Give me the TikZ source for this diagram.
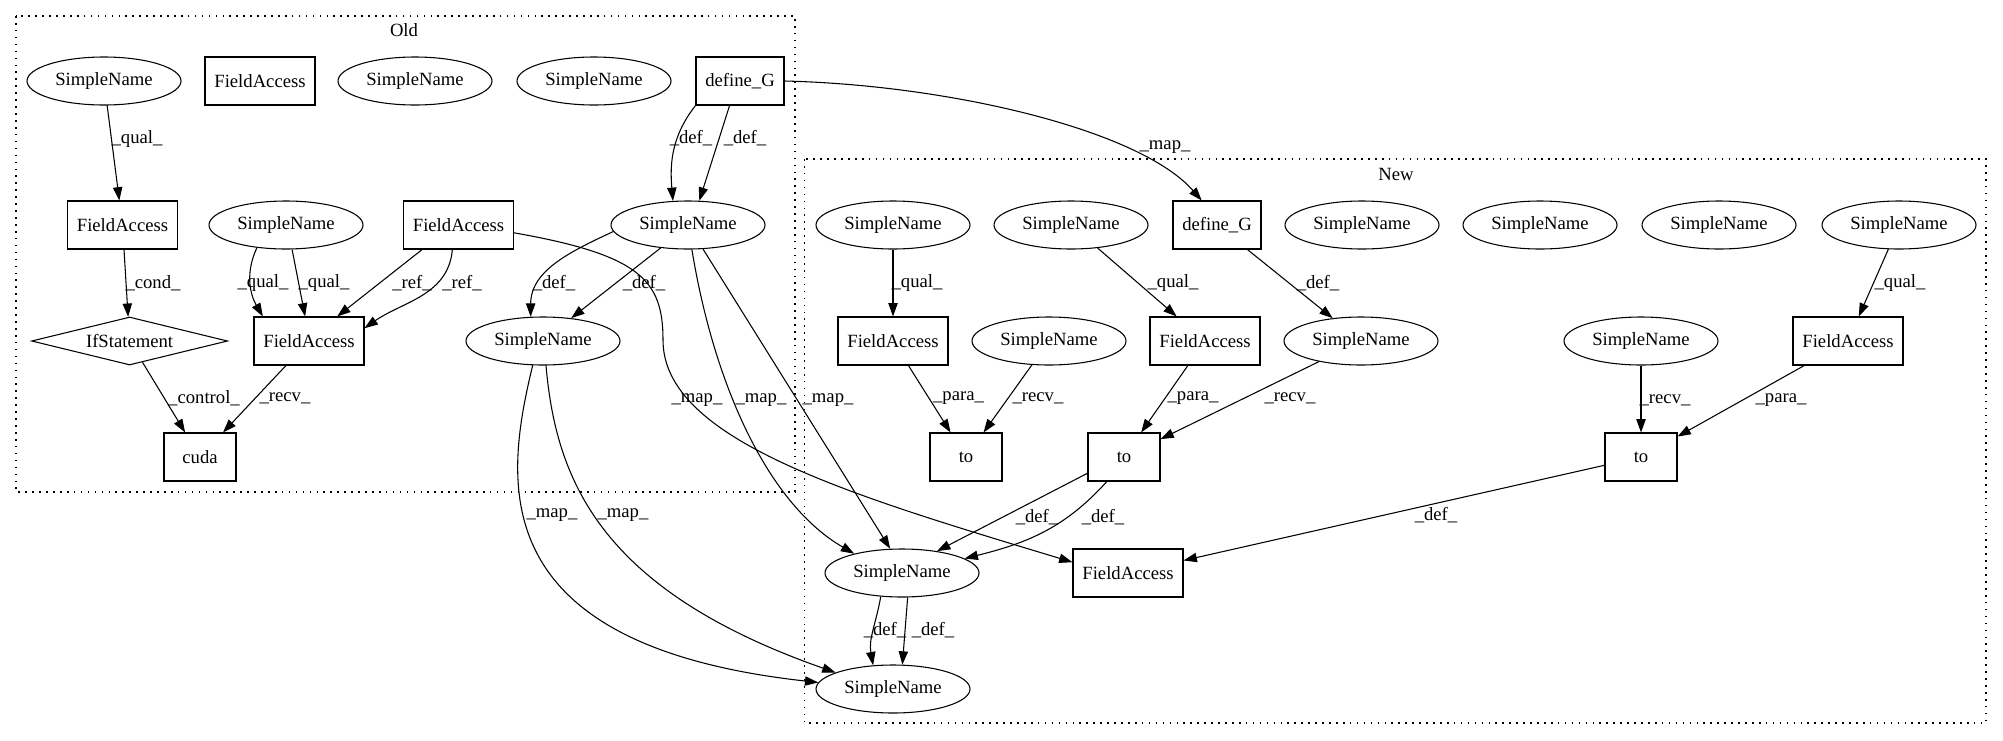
\documentclass[tikz,border=0pt]{standalone}
\usepackage{fontspec}
\setmainfont{Liberation Serif}
\usetikzlibrary{shapes.geometric,arrows.meta}

\begin{document}
\begin{tikzpicture}[x=0.75pt,y=-0.75pt,
  every node/.style={font=\fontsize{14}{16}\selectfont},
  sname/.style={draw,ellipse,line width=0.8pt,inner sep=0pt,minimum width=115.5pt,minimum height=36pt},
  fld/.style={draw,rectangle,line width=0.8pt,inner sep=0pt,minimum width=82.5pt,minimum height=36pt},
  defbox/.style={fld,minimum width=66pt},
  call/.style={fld,minimum width=54pt},
  decide/.style={draw,diamond,aspect=4,line width=0.8pt,inner sep=0pt,minimum width=147pt,minimum height=36pt},
  link/.style={line width=0.8pt,-{Triangle[length=10pt,width=7pt]}},
  lbl/.style={inner sep=0pt},
  cluster/.style={line width=0.8pt,dash pattern=on 1.2pt off 4pt}]
\useasboundingbox (0,0) rectangle (2003,740);

\draw[cluster] (16,16) rectangle (795,492);
\draw[cluster] (804.5,159) rectangle (1986,723);
\node (t_old) at (404,30) {Old};
\node (t_new) at (1396,174) {New};

\node[sname] (o_sn1) at (104,81) {SimpleName};
\node[fld] (o_fa1) at (260,81) {FieldAccess};
\node[sname] (o_sn2) at (415,81) {SimpleName};
\node[sname] (o_sn3) at (594,81) {SimpleName};
\node[defbox] (o_defG) at (740,81) {define\_G};

\node[fld] (o_fa2) at (122.5,225) {FieldAccess};
\node[sname] (o_sn4) at (286,225) {SimpleName};
\node[fld] (o_fa3) at (458.5,225) {FieldAccess};
\node[sname] (o_sn5) at (688,225) {SimpleName};

\node[decide] (o_if) at (129.6,341) {IfStatement};
\node[fld] (o_fa4) at (309,341) {FieldAccess};
\node[sname] (o_sn6) at (543,341) {SimpleName};

\node[call] (o_cuda) at (200,457) {cuda};

\node[sname] (n_sn1) at (893,225) {SimpleName};
\node[sname] (n_sn2) at (1071,225) {SimpleName};
\node[defbox] (n_defG) at (1217,225) {define\_G};
\node[sname] (n_sn3) at (1362,225) {SimpleName};
\node[sname] (n_sn4) at (1540,225) {SimpleName};
\node[sname] (n_sn5) at (1719,225) {SimpleName};
\node[sname] (n_sn6) at (1899,225) {SimpleName};

\node[fld] (n_fa1) at (893,341) {FieldAccess};
\node[sname] (n_sn7) at (1049,341) {SimpleName};
\node[fld] (n_fa2) at (1205,341) {FieldAccess};
\node[sname] (n_sn8) at (1361,341) {SimpleName};
\node[sname] (n_sn9) at (1641,341) {SimpleName};
\node[fld] (n_fa3) at (1848,341) {FieldAccess};

\node[call] (n_to1) at (966,457) {to};
\node[call] (n_to2) at (1124,457) {to};
\node[call] (n_to3) at (1641,457) {to};

\node[sname] (n_sn10) at (902,573) {SimpleName};
\node[fld] (n_fa4) at (1128,573) {FieldAccess};
\node[sname] (n_sn11) at (893,689) {SimpleName};

\draw[link] (o_sn1) -- (o_fa2) node[lbl,at={(137,139)}] {\_qual\_};
\draw[link] (o_defG.south west) to[out=-128,in=95] (o_sn5.122) node[lbl,at={(691,138)}] {\_def\_};
\draw[link] (o_defG.-113) -- (o_sn5.65) node[lbl,at={(745,138)}] {\_def\_};
\draw[link] (o_fa2) -- (o_if) node[lbl,at={(153,283)}] {\_cond\_};
\draw[link] (o_sn4.-142) to[out=-115,in=120] (o_fa4.152) node[lbl,at={(263,283)}] {\_qual\_};
\draw[link] (o_sn4.-76) -- (o_fa4.99) node[lbl,at={(324,283)}] {\_qual\_};
\draw[link] (o_fa3.-146) -- (o_fa4.41) node[lbl,at={(412,283)}] {\_ref\_};
\draw[link] (o_fa3.-104) to[out=-95,in=35] (o_fa4.13) node[lbl,at={(462,283)}] {\_ref\_};
\draw[link] (o_sn5.185) to[out=-155,in=90] (o_sn6.117) node[lbl,at={(554,283)}] {\_def\_};
\draw[link] (o_sn5.-140) -- (o_sn6.39) node[lbl,at={(644,283)}] {\_def\_};
\draw[link] (o_if) -- (o_cuda) node[lbl,at={(204,398)}] {\_control\_};
\draw[link] (o_fa4) -- (o_cuda) node[lbl,at={(285,398)}] {\_recv\_};

\draw[link] (o_fa3.-8) .. controls (640,255) and (663,280) .. (663,340) .. controls (663,440) and (850,495) .. (n_fa4.169) node[lbl,at={(697,400)}] {\_map\_};
\draw[link] (o_sn5.-81) .. controls (715,390) and (770,505) .. (n_sn10.158) node[lbl,at={(761,400)}] {\_map\_};
\draw[link] (o_sn5.-58) -- (n_sn10.116) node[lbl,at={(828,400)}] {\_map\_};
\draw[link] (o_sn6.-113) .. controls (505,480) and (480,645) .. (n_sn11.175) node[lbl,at={(552,515)}] {\_map\_};
\draw[link] (o_sn6.-83) .. controls (556,480) and (600,590) .. (n_sn11.164) node[lbl,at={(623,515)}] {\_map\_};
\draw[link] (o_defG.east) .. controls (950,85) and (1140,130) .. (n_defG.122) node[lbl,at={(1165,147)}] {\_map\_};

\draw[link] (n_sn1) -- (n_fa1) node[lbl,at={(917,283)}] {\_qual\_};
\draw[link] (n_sn2) -- (n_fa2) node[lbl,at={(1173,283)}] {\_qual\_};
\draw[link] (n_defG) -- (n_sn8) node[lbl,at={(1318,283)}] {\_def\_};
\draw[link] (n_sn6) -- (n_fa3) node[lbl,at={(1900,283)}] {\_qual\_};
\draw[link] (n_fa1) -- (n_to1) node[lbl,at={(958.5,398)}] {\_para\_};
\draw[link] (n_sn7) -- (n_to1) node[lbl,at={(1038,398)}] {\_recv\_};
\draw[link] (n_fa2) -- (n_to2) node[lbl,at={(1193,398)}] {\_para\_};
\draw[link] (n_sn8) -- (n_to2) node[lbl,at={(1290,398)}] {\_recv\_};
\draw[link] (n_sn9) -- (n_to3) node[lbl,at={(1665,400)}] {\_recv\_};
\draw[link] (n_fa3) -- (n_to3) node[lbl,at={(1781,400)}] {\_para\_};
\draw[link] (n_to2.204) -- (n_sn10.32) node[lbl,at={(1037,517)}] {\_def\_};
\draw[link] (n_to2.235) to[out=-132,in=14] (n_sn10.13) node[lbl,at={(1103,517)}] {\_def\_};
\draw[link] (n_to3) -- (n_fa4) node[lbl,at={(1436,515)}] {\_def\_};
\draw[link] (n_sn10.-132) to[out=-100,in=100] (n_sn11.130) node[lbl,at={(885,630)}] {\_def\_};
\draw[link] (n_sn10.-77) -- (n_sn11.69) node[lbl,at={(933,630)}] {\_def\_};
\end{tikzpicture}
\end{document}
